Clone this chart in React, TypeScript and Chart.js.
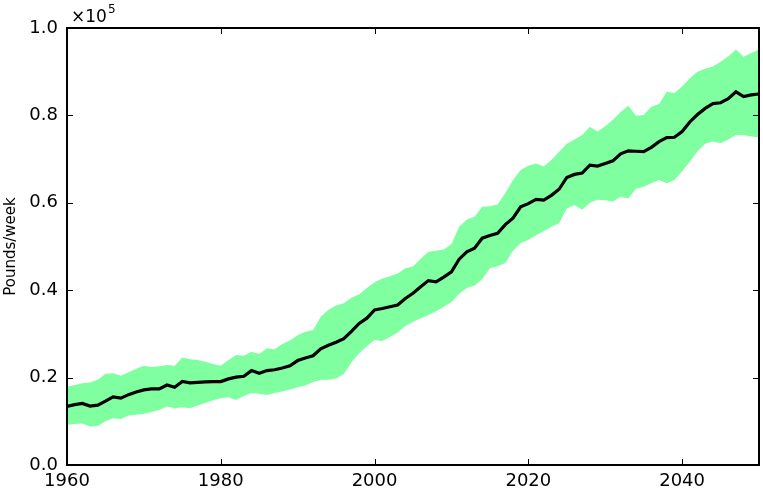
import React, { useEffect, useRef } from "react";
import { Chart, registerables } from "chart.js";

Chart.register(...registerables);

const years = [
  1960, 1961, 1962, 1963, 1964, 1965, 1966, 1967, 1968, 1969,
  1970, 1971, 1972, 1973, 1974, 1975, 1976, 1977, 1978, 1979,
  1980, 1981, 1982, 1983, 1984, 1985, 1986, 1987, 1988, 1989,
  1990, 1991, 1992, 1993, 1994, 1995, 1996, 1997, 1998, 1999,
  2000, 2001, 2002, 2003, 2004, 2005, 2006, 2007, 2008, 2009,
  2010, 2011, 2012, 2013, 2014, 2015, 2016, 2017, 2018, 2019,
  2020, 2021, 2022, 2023, 2024, 2025, 2026, 2027, 2028, 2029,
  2030, 2031, 2032, 2033, 2034, 2035, 2036, 2037, 2038, 2039,
  2040, 2041, 2042, 2043, 2044, 2045, 2046, 2047, 2048, 2049,
  2050,
];

// Pounds/week
const meanValues = [
  13400, 13800, 14100, 13500, 13700, 14600, 15600, 15300, 16100, 16700,
  17200, 17400, 17400, 18300, 17800, 19100, 18800, 18900, 19000, 19100,
  19100, 19700, 20100, 20300, 21600, 21000, 21600, 21800, 22200, 22700,
  23900, 24500, 25000, 26600, 27400, 28100, 28900, 30600, 32400, 33600,
  35500, 35800, 36200, 36600, 38100, 39300, 40800, 42200, 41900, 43000,
  44200, 47100, 48800, 49600, 51900, 52500, 53000, 55000, 56500, 59100,
  59800, 60800, 60600, 61700, 63100, 65800, 66500, 66800, 68600, 68400,
  69000, 69600, 71200, 71900, 71800, 71700, 72700, 74000, 74900, 75000,
  76300, 78500, 80200, 81600, 82700, 82900, 83800, 85400, 84300, 84700,
  84900,
];

const upperValues = [
  17900, 18300, 18700, 18900, 19500, 20900, 21000, 20400, 21200, 22000,
  22700, 22400, 22600, 22900, 22700, 24600, 24200, 24000, 23600, 23100,
  22700, 24000, 25200, 25000, 25900, 25400, 26700, 26500, 27700, 28500,
  29700, 30500, 30900, 33900, 35500, 36500, 37000, 38300, 39100, 40500,
  41800, 42700, 43200, 43800, 45000, 45400, 47200, 48800, 49000, 49300,
  50600, 54500, 56200, 56800, 59100, 59200, 59600, 62200, 65200, 67500,
  68500, 69000, 68300, 69800, 71700, 73500, 74500, 75500, 77400, 76300,
  77500, 79000, 80800, 82200, 79900, 80100, 82000, 82600, 85400, 85100,
  86600, 88500, 90000, 90700, 91200, 92300, 93500, 95100, 93400, 94300,
  95100,
];

const lowerValues = [
  9200, 9400, 9500, 8800, 8900, 10000, 10700, 10500, 11300, 11500,
  11700, 12100, 12600, 13400, 13000, 13200, 13000, 13600, 14200, 14800,
  15300, 15500, 14900, 15800, 16500, 16300, 16000, 16500, 16800, 17300,
  17800, 18200, 19000, 19500, 19500, 19800, 20800, 23500, 25600, 27200,
  28600, 28400, 29300, 30300, 31800, 32800, 33600, 34300, 35200, 36200,
  37300, 39200, 40500, 41100, 42500, 45000, 45500, 46200, 49000, 50800,
  51500, 52600, 53500, 54500, 55300, 58700, 59500, 58400, 60000, 60700,
  60600, 60300, 61400, 61000, 63200, 63700, 64500, 65200, 64500, 65200,
  67200, 69400, 71800, 73500, 74000, 73600, 74500, 75500, 75500, 75200,
  75000,
];

const xTickValues = [1960, 1980, 2000, 2020, 2040];
const xTickLabels = ["1960", "1980", "2000", "2020", "2040"];
const yTickValues = [0, 20000, 40000, 60000, 80000, 100000];
const yTickLabels = ["0.0", "0.2", "0.4", "0.6", "0.8", "1.0"];

const FONT = "'DejaVu Sans', sans-serif";

const framePlugin = {
  id: "mplFrame",
  afterDraw(chart: any) {
    const { ctx, chartArea } = chart;
    const xs = chart.scales.x;
    const ys = chart.scales.y;
    const { left, right, top, bottom } = chartArea;
    ctx.save();
    ctx.strokeStyle = "#000";
    ctx.lineWidth = 1;
    const tl = 6;
    ctx.beginPath();
    xTickValues.forEach((v) => {
      const px = Math.round(xs.getPixelForValue(v)) + 0.5;
      ctx.moveTo(px, bottom);
      ctx.lineTo(px, bottom - tl);
      ctx.moveTo(px, top);
      ctx.lineTo(px, top + tl);
    });
    yTickValues.forEach((v) => {
      const py = Math.round(ys.getPixelForValue(v)) + 0.5;
      ctx.moveTo(left, py);
      ctx.lineTo(left + tl, py);
      ctx.moveTo(right, py);
      ctx.lineTo(right - tl, py);
    });
    ctx.stroke();
    ctx.lineWidth = 2;
    ctx.strokeRect(left, top, right - left, bottom - top);
    ctx.fillStyle = "#000";
    ctx.textBaseline = "alphabetic";
    ctx.textAlign = "left";
    ctx.font = `17px ${FONT}`;
    const base = "\u00d710";
    ctx.fillText(base, left + 4, top - 6);
    const w = ctx.measureText(base).width;
    ctx.font = `12px ${FONT}`;
    ctx.fillText("5", left + 4 + w + 1, top - 15);
    ctx.restore();
  },
};

export default function App() {
  const canvasRef = useRef<HTMLCanvasElement | null>(null);

  useEffect(() => {
    document.body.style.margin = "0";
    const canvas = canvasRef.current;
    if (!canvas) return;
    const toPts = (vals: number[]) => years.map((yr, i) => ({ x: yr, y: vals[i] }));
    const chart = new Chart(canvas, {
      type: "line",
      data: {
        datasets: [
          {
            label: "Mean",
            data: toPts(meanValues),
            borderColor: "#000000",
            borderWidth: 3.2,
            pointRadius: 0,
            fill: false,
            tension: 0,
            order: 0,
          },
          {
            label: "Upper",
            data: toPts(upperValues),
            borderWidth: 0,
            borderColor: "rgba(0,0,0,0)",
            backgroundColor: "#80ffa0",
            pointRadius: 0,
            fill: "+1",
            tension: 0,
            order: 1,
          },
          {
            label: "Lower",
            data: toPts(lowerValues),
            borderWidth: 0,
            borderColor: "rgba(0,0,0,0)",
            backgroundColor: "#80ffa0",
            pointRadius: 0,
            fill: false,
            tension: 0,
            order: 2,
          },
        ],
      },
      options: {
        animation: false,
        responsive: false,
        maintainAspectRatio: false,
        layout: { padding: { top: 28, right: 4, left: 0, bottom: 0 } },
        plugins: {
          legend: { display: false },
          tooltip: { enabled: false },
          filler: { propagate: false },
        },
        scales: {
          x: {
            type: "linear",
            min: 1960,
            max: 2050,
            grid: { display: false, drawTicks: false, tickLength: 0 },
            border: { display: false },
            afterBuildTicks: (scale: any) => {
              scale.ticks = xTickValues.map((v) => ({ value: v }));
            },
            afterFit: (scale: any) => {
              scale.height = 25;
            },
            ticks: {
              autoSkip: false,
              maxRotation: 0,
              padding: 6,
              color: "#000",
              font: { family: FONT, size: 18 },
              callback: (v: any) => {
                const i = xTickValues.indexOf(Number(v));
                return i >= 0 ? xTickLabels[i] : "";
              },
            },
          },
          y: {
            type: "linear",
            min: 0,
            max: 100000,
            grid: { display: false, drawTicks: false, tickLength: 0 },
            border: { display: false },
            afterBuildTicks: (scale: any) => {
              scale.ticks = yTickValues.map((v) => ({ value: v }));
            },
            afterFit: (scale: any) => {
              scale.width = 67;
            },
            title: {
              display: true,
              text: "Pounds/week",
              color: "#000",
              font: { family: FONT, size: 15 },
              padding: { top: 2, bottom: 0 },
            },
            ticks: {
              autoSkip: false,
              padding: 9,
              color: "#000",
              font: { family: FONT, size: 18 },
              callback: (v: any) => {
                const i = yTickValues.indexOf(Number(v));
                return i >= 0 ? yTickLabels[i] : "";
              },
            },
          },
        },
      },
      plugins: [framePlugin],
    });
    return () => chart.destroy();
  }, []);

  return (
    <div style={{ position: "absolute", left: 0, top: 0, width: 763, height: 490, background: "#fff" }}>
      <canvas ref={canvasRef} width={763} height={490} />
    </div>
  );
}
